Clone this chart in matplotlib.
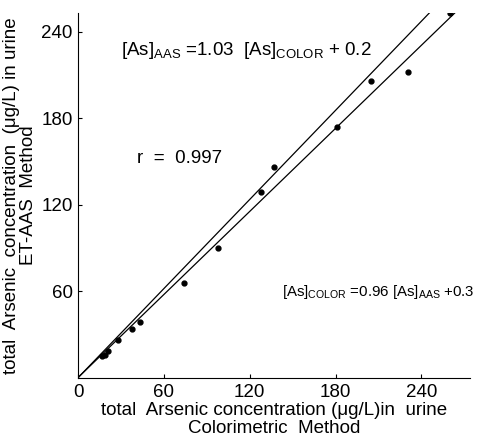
import numpy as np
import matplotlib
matplotlib.use('Agg')
import matplotlib.pyplot as plt

plt.rcParams['font.family'] = ['Liberation Sans', 'DejaVu Sans']

# colorimetric (x) vs ET-AAS (y), ug/L
color_vals = [17, 19, 21, 28, 38, 43, 74, 98, 128, 137, 181, 205, 231, 260]
aas_vals = [15, 16, 19, 26, 34, 39, 66, 90, 129, 146, 174, 206, 212, 253]

# fitted lines as drawn: slope, intercept, x end
fit_slopes = [1.03, 0.96]
fit_intercepts = [0.2, 0.3]
fit_xend = [247, 265]

xticks = [0, 60, 120, 180, 240]
yticks = [60, 120, 180, 240]

fig = plt.figure(figsize=[4.82, 4.40], dpi=100)
ax = fig.add_axes([0.162, 0.141, 0.813, 0.829])

for m, b, xe in zip(fit_slopes, fit_intercepts, fit_xend):
    xs = np.array([0, xe])
    ax.plot(xs, m * xs + b, color='k', lw=0.9)
ax.plot(color_vals, aas_vals, 'o', color='k', ms=3.5)

ax.set_xlim(0, 274)
ax.set_ylim(0, 253)
ax.set_xticks(xticks)
ax.set_yticks(yticks)
ax.tick_params(direction='in', length=3, labelsize=13.5, pad=4)
for s in ['top', 'right']:
    ax.spines[s].set_visible(False)

ax.set_xlabel('total  Arsenic concentration (\u03bcg/L)in  urine\nColorimetric  Method',
              fontsize=13.5, linespacing=1.1, labelpad=1)
ax.set_ylabel('total  Arsenic  concentration  (\u03bcg/L) in urine\nET-AAS  Method',
              fontsize=13.5, linespacing=1.0, labelpad=3)

ax.text(0.11, 0.885, r'[As]$_{\mathregular{AAS}}$ =1.03  [As]$_{\mathregular{COLOR}}$ + 0.2',
        transform=ax.transAxes, fontsize=13.5)
ax.text(0.15, 0.59, 'r  =  0.997', transform=ax.transAxes, fontsize=13.5)
ax.text(0.52, 0.225, r'[As]$_{\mathregular{COLOR}}$ =0.96 [As]$_{\mathregular{AAS}}$ +0.3',
        transform=ax.transAxes, fontsize=10.8)

fig.savefig('out.png', dpi=100)
